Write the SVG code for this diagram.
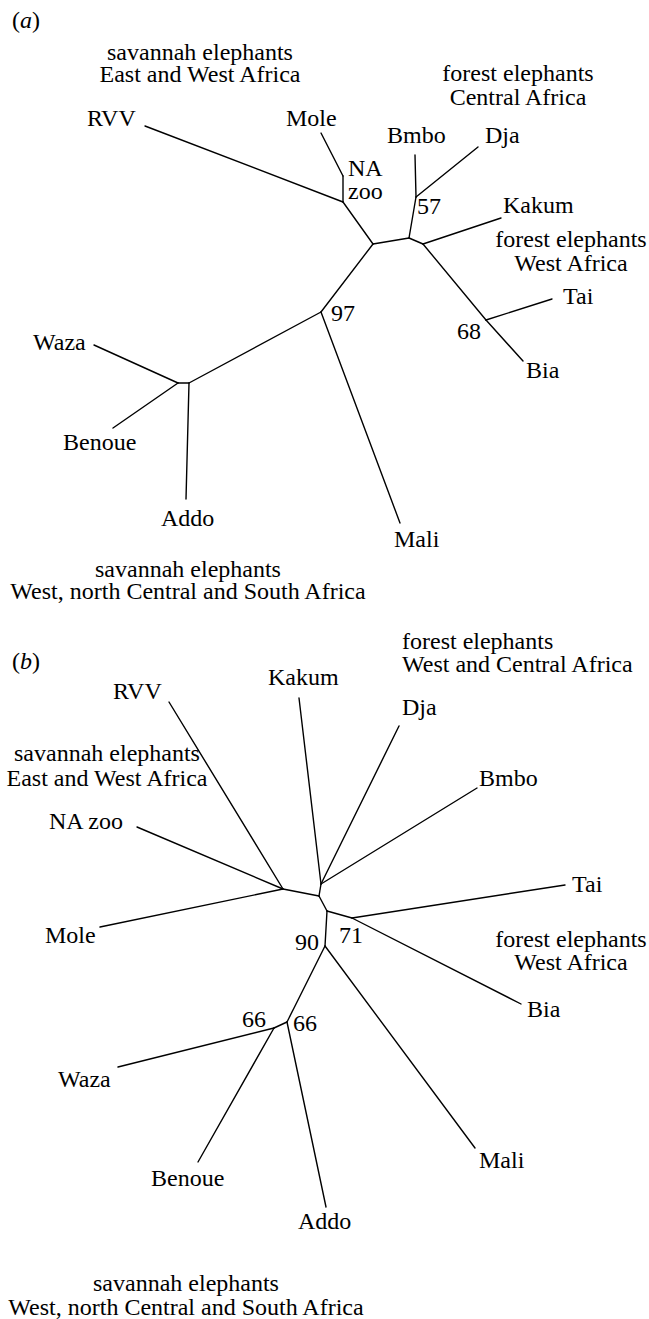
<svg xmlns="http://www.w3.org/2000/svg" width="649" height="1319" viewBox="0 0 649 1319">
<style>
text{font-family:"Liberation Serif","Times New Roman",serif;font-size:24px;fill:#000}
.m{text-anchor:middle}
.e line{stroke:#000;stroke-width:1.4;stroke-linecap:round}
</style>
<rect width="649" height="1319" fill="#fff"/>
<g id="panel-a">
<g id="a-title"><text x="12" y="28">(<tspan font-style="italic">a</tspan>)</text></g>
<g id="a-group-savE"><text class="m" x="200" y="60">savannah elephants</text><text class="m" x="200" y="82">East and West Africa</text></g>
<g id="a-group-forC"><text class="m" x="518" y="81">forest elephants</text><text class="m" x="518" y="105">Central Africa</text></g>
<g id="a-group-forW"><text class="m" x="571" y="247">forest elephants</text><text class="m" x="571" y="271">West Africa</text></g>
<g id="a-group-savW"><text class="m" x="188" y="577">savannah elephants</text><text class="m" x="188" y="599">West, north Central and South Africa</text></g>
<g id="a-RVV"><text x="87" y="126">RVV</text></g>
<g id="a-Mole"><text x="286" y="126">Mole</text></g>
<g id="a-NAzoo"><text x="348" y="176">NA</text><text x="348" y="199">zoo</text></g>
<g id="a-Bmbo"><text x="387" y="143">Bmbo</text></g>
<g id="a-Dja"><text x="485" y="143">Dja</text></g>
<g id="a-57"><text x="417" y="214">57</text></g>
<g id="a-Kakum"><text x="503" y="213">Kakum</text></g>
<g id="a-Tai"><text x="563" y="304">Tai</text></g>
<g id="a-97"><text x="331" y="321">97</text></g>
<g id="a-68"><text x="457" y="339">68</text></g>
<g id="a-Bia"><text x="526" y="378">Bia</text></g>
<g id="a-Mali"><text x="394" y="547">Mali</text></g>
<g id="a-Waza"><text x="33" y="350">Waza</text></g>
<g id="a-Benoue"><text x="63" y="450">Benoue</text></g>
<g id="a-Addo"><text x="161" y="526">Addo</text></g>
</g>
<g id="panel-b">
<g id="b-title"><text x="12" y="669">(<tspan font-style="italic">b</tspan>)</text></g>
<g id="b-group-savE"><text class="m" x="107" y="761">savannah elephants</text><text class="m" x="107" y="786">East and West Africa</text></g>
<g id="b-group-forWC"><text x="402" y="649">forest elephants</text><text x="402" y="672">West and Central Africa</text></g>
<g id="b-group-forW"><text class="m" x="571" y="947">forest elephants</text><text class="m" x="571" y="970">West Africa</text></g>
<g id="b-group-savW"><text class="m" x="186" y="1291">savannah elephants</text><text class="m" x="186" y="1315">West, north Central and South Africa</text></g>
<g id="b-RVV"><text x="113" y="699">RVV</text></g>
<g id="b-Kakum"><text x="268" y="685">Kakum</text></g>
<g id="b-NAzoo"><text x="49" y="829">NA zoo</text></g>
<g id="b-Dja"><text x="402" y="715">Dja</text></g>
<g id="b-Bmbo"><text x="479" y="786">Bmbo</text></g>
<g id="b-Tai"><text x="572" y="892">Tai</text></g>
<g id="b-71"><text x="339" y="943">71</text></g>
<g id="b-Bia"><text x="527" y="1017">Bia</text></g>
<g id="b-Mole"><text x="45" y="943">Mole</text></g>
<g id="b-90"><text x="295" y="950">90</text></g>
<g id="b-66a"><text x="242" y="1027">66</text></g>
<g id="b-66b"><text x="293" y="1031">66</text></g>
<g id="b-Waza"><text x="58" y="1087">Waza</text></g>
<g id="b-Benoue"><text x="151" y="1186">Benoue</text></g>
<g id="b-Addo"><text x="298" y="1229">Addo</text></g>
<g id="b-Mali"><text x="479" y="1168">Mali</text></g>
</g>
<g id="connectors" class="e">
<line x1="145" y1="126" x2="343" y2="202"/>
<line x1="321" y1="133" x2="343" y2="176"/>
<line x1="343" y1="176" x2="343" y2="202"/>
<line x1="343" y1="202" x2="373" y2="244"/>
<line x1="373" y1="244" x2="409" y2="238"/>
<line x1="409" y1="238" x2="416" y2="197"/>
<line x1="416" y1="197" x2="415" y2="155"/>
<line x1="416" y1="197" x2="478" y2="147"/>
<line x1="409" y1="238" x2="423" y2="244"/>
<line x1="423" y1="244" x2="501" y2="218"/>
<line x1="423" y1="244" x2="486" y2="320"/>
<line x1="486" y1="320" x2="552" y2="299"/>
<line x1="486" y1="320" x2="523" y2="361"/>
<line x1="373" y1="244" x2="321" y2="312"/>
<line x1="321" y1="312" x2="400" y2="523"/>
<line x1="321" y1="312" x2="189" y2="383"/>
<line x1="189" y1="383" x2="178" y2="383"/>
<line x1="178" y1="383" x2="94" y2="345"/>
<line x1="178" y1="383" x2="113" y2="428"/>
<line x1="189" y1="383" x2="186" y2="499"/>

<line x1="169" y1="702" x2="283" y2="889"/>
<line x1="137" y1="827" x2="283" y2="889"/>
<line x1="100" y1="927" x2="283" y2="889"/>
<line x1="283" y1="889" x2="319" y2="896"/>
<line x1="319" y1="896" x2="321" y2="884"/>
<line x1="321" y1="884" x2="299" y2="698"/>
<line x1="321" y1="884" x2="399" y2="726"/>
<line x1="321" y1="884" x2="477" y2="788"/>
<line x1="319" y1="896" x2="327" y2="911"/>
<line x1="327" y1="911" x2="352" y2="918"/>
<line x1="352" y1="918" x2="565" y2="885"/>
<line x1="352" y1="918" x2="521" y2="1004"/>
<line x1="327" y1="911" x2="325" y2="946"/>
<line x1="325" y1="946" x2="475" y2="1148"/>
<line x1="325" y1="946" x2="287" y2="1022"/>
<line x1="287" y1="1022" x2="274" y2="1028"/>
<line x1="274" y1="1028" x2="118" y2="1067"/>
<line x1="274" y1="1028" x2="198" y2="1162"/>
<line x1="287" y1="1022" x2="326" y2="1207"/>
</g>
</svg>
